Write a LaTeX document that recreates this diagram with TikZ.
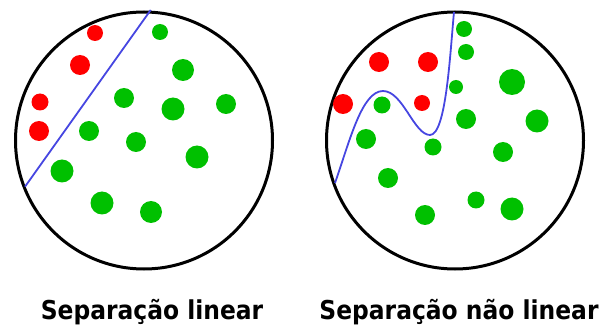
\documentclass[tikz,border=0pt]{standalone}
\usepackage{fontspec}
\setmainfont{DejaVu Sans}
\definecolor{dotgreen}{RGB}{0,192,0}
\definecolor{dotred}{RGB}{255,0,0}
\definecolor{sepblue}{RGB}{70,70,225}
\begin{document}
\begin{tikzpicture}[x=1pt,y=-1pt,
  ring/.style={circle,draw=black,line width=3pt,minimum size=257pt,inner sep=0pt},
  gdot/.style={circle,fill=dotgreen,inner sep=0pt,minimum size=#1},
  rdot/.style={circle,fill=dotred,inner sep=0pt,minimum size=#1},
  sep/.style={draw=sepblue,line width=1.8pt},
  caption/.style={font=\fontsize{26}{26}\selectfont\bfseries,anchor=base,inner sep=0pt}]
\useasboundingbox (0,0) rectangle (603,326);
% circles
\node[ring] (L) at (144,140.5) {};
\node[ring] (R) at (455,140.5) {};
% left dots
\node[rdot=16pt] (lr1) at (95,33) {};
\node[rdot=20pt] (lr2) at (80,65) {};
\node[rdot=17pt] (lr3) at (40,102) {};
\node[rdot=20pt] (lr4) at (39,131) {};
\node[gdot=16pt] (lg1) at (160,32) {};
\node[gdot=22pt] (lg2) at (183,70) {};
\node[gdot=20pt] (lg3) at (124,98) {};
\node[gdot=23pt] (lg4) at (173,109) {};
\node[gdot=20pt] (lg5) at (226,104) {};
\node[gdot=20pt] (lg6) at (89,131) {};
\node[gdot=20pt] (lg7) at (136,142) {};
\node[gdot=23pt] (lg8) at (197,157) {};
\node[gdot=23pt] (lg9) at (62,171) {};
\node[gdot=23pt] (lg10) at (102,203) {};
\node[gdot=22pt] (lg11) at (151,212) {};
% left separator
\coordinate (la) at (150.7,10);
\coordinate (lb) at (25,186.7);
\draw[sep] (la) -- (lb);
% right dots
\node[rdot=20pt] (rr1) at (379,62) {};
\node[rdot=20pt] (rr2) at (428,62) {};
\node[rdot=20pt] (rr3) at (343,104) {};
\node[rdot=16pt] (rr4) at (422,103) {};
\node[gdot=16pt] (rg1) at (464,29) {};
\node[gdot=16pt] (rg2) at (466,52) {};
\node[gdot=14pt] (rg3) at (456,87) {};
\node[gdot=26pt] (rg4) at (512,82) {};
\node[gdot=17pt] (rg5) at (382,105) {};
\node[gdot=20pt] (rg6) at (466,119) {};
\node[gdot=23pt] (rg7) at (537,121) {};
\node[gdot=20pt] (rg8) at (366,139) {};
\node[gdot=17pt] (rg9) at (433,147) {};
\node[gdot=20pt] (rg10) at (503,152) {};
\node[gdot=20pt] (rg11) at (388,178) {};
\node[gdot=17pt] (rg12) at (476,200) {};
\node[gdot=23pt] (rg13) at (512,209) {};
\node[gdot=20pt] (rg14) at (425,215) {};
% right separator
\coordinate (ra) at (335,183);
\coordinate (rp) at (383,91);
\coordinate (rt) at (430,135);
\coordinate (rb) at (454,12);
\draw[sep] (ra) .. controls (350,140) and (362,91) .. (rp)
  .. controls (403,91) and (414,135) .. (rt)
  .. controls (446,135) and (450,55) .. (rb);
% captions
\node[caption] (cl) at (152,319) {\scalebox{0.9}[1]{Separação linear}};
\node[caption] (cr) at (459,319) {\scalebox{0.9}[1]{Separação não linear}};
\end{tikzpicture}
\end{document}
